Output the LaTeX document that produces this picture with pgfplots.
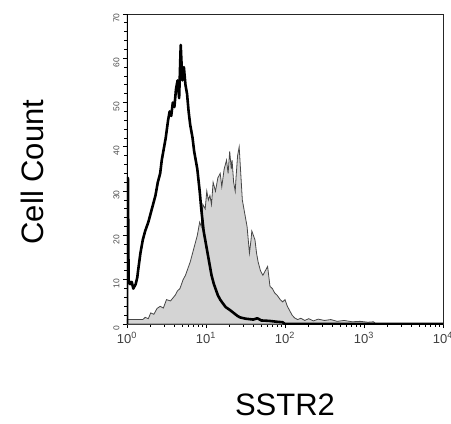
\documentclass[border=0pt]{standalone}
\usepackage{fontspec}
\setmainfont{Liberation Sans}
\usepackage{pgfplots}
\pgfplotsset{compat=1.18}
\begin{document}
\begin{tikzpicture}
\useasboundingbox (-127pt,-100pt) rectangle (324pt,324pt);
\begin{axis}[
  scale only axis, width=316pt, height=310pt,
  at={(0pt,0pt)}, anchor=south west,
  xmin=0, xmax=4, ymin=0, ymax=70,
  axis line style={line width=0.9pt, black!85},
  xtick={0,1,2,3,4},
  xticklabels={10\textsuperscript{0},10\textsuperscript{1},10\textsuperscript{2},10\textsuperscript{3},10\textsuperscript{4}},
  minor xtick={0.301,0.477,0.602,0.699,0.778,0.845,0.903,0.954,
               1.301,1.477,1.602,1.699,1.778,1.845,1.903,1.954,
               2.301,2.477,2.602,2.699,2.778,2.845,2.903,2.954,
               3.301,3.477,3.602,3.699,3.778,3.845,3.903,3.954},
  ytick={0,10,20,30,40,50,60,70},
  minor y tick num=4,
  tick align=outside, xtick pos=bottom, ytick pos=left,
  major tick length=4pt, minor tick length=2.5pt,
  tick style={black, line width=0.8pt},
  /pgf/number format/assume math mode=true,
  xticklabel style={font=\fontsize{13}{15}\selectfont, text=black!75, yshift=-1pt},
  yticklabel style={font=\fontsize{8.5}{10}\selectfont, rotate=90, text=black!70, anchor=south, xshift=-4pt},
  xlabel={SSTR2}, ylabel={Cell Count},
  xlabel style={font=\fontsize{31}{36}\selectfont, at={(axis description cs:0.5,-0.26)}, anchor=center},
  ylabel style={font=\fontsize{31}{36}\selectfont, at={(axis description cs:-0.30,0.49)}, anchor=center, rotate=0},
  clip=true,
]
\draw[black, line width=1.8pt] (axis cs:0,0) -- (axis cs:0,70);
% SSTR2 (filled)
\addplot[fill=black!17, draw=black!72, line width=0.8pt] coordinates {
(0,0) (0,1) (0.10,1) (0.20,1) (0.23,1.5) (0.27,1.2) (0.30,2.5) (0.34,2.2) (0.38,3.5) (0.42,4) (0.46,3.6) (0.50,5.5)
(0.55,5.2) (0.61,6.5) (0.64,7.5) (0.67,8) (0.71,10) (0.74,11) (0.77,12.5) (0.80,14) (0.83,16) (0.86,18)
(0.89,20) (0.92,23) (0.94,22) (0.96,27) (0.99,26) (1.01,30) (1.03,28) (1.05,29) (1.07,27) (1.09,32)
(1.12,30) (1.15,33) (1.18,34) (1.20,31) (1.23,35) (1.26,37) (1.28,34) (1.30,39) (1.32,35) (1.33,37)
(1.35,32) (1.37,30) (1.38,33) (1.40,38) (1.42,40) (1.44,34) (1.46,28) (1.48,26) (1.50,24) (1.52,22)
(1.53,20) (1.55,16) (1.57,19) (1.58,21) (1.60,20) (1.62,19) (1.64,16) (1.66,14) (1.69,12) (1.72,11)
(1.75,12) (1.78,13) (1.80,10) (1.81,8.5) (1.84,8) (1.87,7) (1.90,6.5) (1.94,5.5) (1.97,5) (2.0,5.5)
(2.03,4) (2.06,3) (2.09,2) (2.12,1.4) (2.16,1) (2.20,1.3) (2.25,0.8) (2.30,1.2) (2.36,0.7) (2.42,1.1)
(2.50,0.8) (2.58,1) (2.66,0.6) (2.75,0.8) (2.85,0.5) (2.95,0.6) (3.05,0.4) (3.12,0.5) (3.15,0) (0,0)
};
% control (black line)
\addplot[black, line width=2.6pt, line join=round] coordinates {
(0,0) (0.003,33) (0.012,33) (0.02,10) (0.04,9) (0.06,9.5) (0.08,8) (0.11,9) (0.13,10.5) (0.14,12)
(0.17,16) (0.20,19) (0.23,21) (0.27,23) (0.30,25) (0.33,27) (0.36,29) (0.39,32) (0.42,34) (0.44,37)
(0.47,40) (0.49,42) (0.52,46) (0.54,48) (0.56,47) (0.58,50) (0.60,49) (0.62,53) (0.64,55) (0.66,51)
(0.68,63) (0.70,55) (0.72,58) (0.74,54) (0.76,52) (0.78,48) (0.80,45) (0.83,42) (0.85,39) (0.87,37)
(0.89,35) (0.92,30) (0.94,26) (0.97,21) (0.99,19) (1.02,16) (1.05,13) (1.07,11) (1.10,9) (1.12,8)
(1.15,6.5) (1.18,5.5) (1.22,4.5) (1.25,3.8) (1.30,3.2) (1.35,2.5) (1.40,1.8) (1.43,1.5) (1.50,1.2)
(1.60,1) (1.65,1.3) (1.70,0.8) (1.80,0.7) (1.90,0.5) (1.97,0.4) (2.0,0) (4,0)
};
\end{axis}
\end{tikzpicture}
\end{document}
